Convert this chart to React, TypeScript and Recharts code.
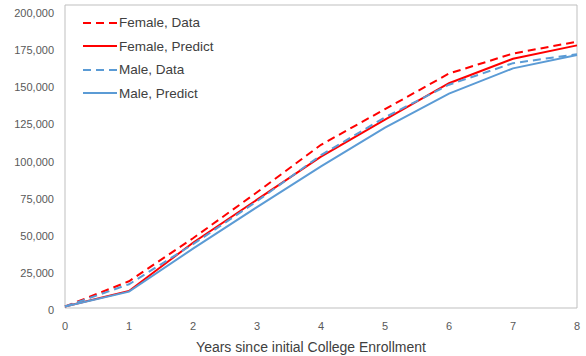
import React from 'react';
import {
  LineChart,
  Line,
  XAxis,
  YAxis,
  Legend,
  ReferenceArea,
} from 'recharts';

const years = [0, 1, 2, 3, 4, 5, 6, 7, 8];
const femaleData = [1000, 18000, 47000, 78000, 110000, 134000, 158000, 171500, 179500];
const femalePredict = [1000, 11500, 44000, 73000, 102000, 127000, 151500, 168000, 177000];
const maleData = [1000, 16000, 43000, 72000, 103000, 128500, 150500, 165000, 171000];
const malePredict = [1000, 11000, 40000, 68000, 95500, 121500, 144500, 161500, 170500];
const yTicks = [0, 25000, 50000, 75000, 100000, 125000, 150000, 175000, 200000];

const data = years.map((year, i) => ({
  year,
  femaleData: femaleData[i],
  femalePredict: femalePredict[i],
  maleData: maleData[i],
  malePredict: malePredict[i],
}));

const RED = '#ff0000';
const BLUE = '#5b9bd5';
const FONT = '"Liberation Sans", Arial, sans-serif';

const series = [
  { key: 'femaleData', name: 'Female, Data', color: RED, dash: '8 5' },
  { key: 'femalePredict', name: 'Female, Predict', color: RED, dash: undefined },
  { key: 'maleData', name: 'Male, Data', color: BLUE, dash: '8 5' },
  { key: 'malePredict', name: 'Male, Predict', color: BLUE, dash: undefined },
];

// legend sits inside the plot, top-left
function ChartLegend() {
  return (
    <div style={{ fontFamily: FONT, fontSize: 13.5, color: '#404040', whiteSpace: 'nowrap' }}>
      {series.map((s) => (
        <div key={s.key} style={{ display: 'flex', alignItems: 'center', height: 23.5 }}>
          <svg width={35} height={4} style={{ marginRight: 1 }}>
            <line x1={0} y1={2} x2={34} y2={2} stroke={s.color} strokeWidth={2} strokeDasharray={s.dash} />
          </svg>
          <span>{s.name}</span>
        </div>
      ))}
    </div>
  );
}

const fmt = (v: number) => v.toLocaleString('en-US');

export default function App() {
  return (
    <div style={{ position: 'absolute', left: 0, top: 0, width: 586, height: 356, background: '#fff' }}>
      <LineChart width={586} height={356} data={data} margin={{ top: 5, right: 9, bottom: 0, left: 0 }}>
        <XAxis
          dataKey="year"
          type="number"
          domain={[0, 8]}
          ticks={years}
          axisLine={false}
          tickLine={false}
          tickMargin={8}
          height={48}
          tick={{ fontSize: 11, fill: '#595959', fontFamily: FONT }}
          label={{
            value: 'Years since initial College Enrollment',
            position: 'insideBottom',
            offset: 4,
            dx: -10,
            style: { fontSize: 14, fill: '#404040', fontFamily: FONT },
          }}
        />
        <YAxis
          type="number"
          domain={[0, 204200]}
          ticks={yTicks}
          axisLine={false}
          tickLine={false}
          tickMargin={5}
          width={65}
          tickFormatter={fmt}
          tick={{ fontSize: 11, fill: '#595959', fontFamily: FONT, dy: 2 }}
        />
        <ReferenceArea x1={0} x2={8} y1={0} y2={204200} fill="none" stroke="#bfbfbf" strokeWidth={1} />
        <Legend
          layout="vertical"
          verticalAlign="middle"
          align="center"
          content={<ChartLegend />}
          wrapperStyle={{ left: 83, top: 11, width: 'auto', height: 'auto' }}
        />
        {series.map((s) => (
          <Line
            key={s.key}
            type="linear"
            dataKey={s.key}
            name={s.name}
            stroke={s.color}
            strokeWidth={2}
            strokeDasharray={s.dash}
            dot={false}
            isAnimationActive={false}
          />
        ))}
      </LineChart>
    </div>
  );
}
